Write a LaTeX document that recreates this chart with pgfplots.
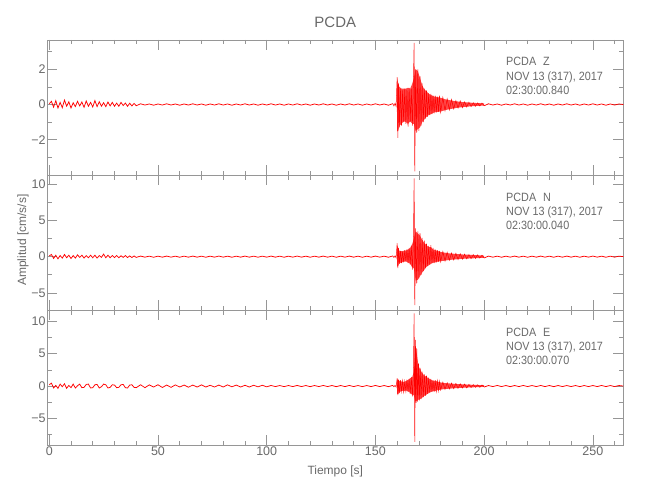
\documentclass[border=0pt]{standalone}
\usepackage{fontspec}
\setmainfont{Liberation Sans}
\newfontfamily\narrowfont{Liberation Sans}[FakeStretch=0.9]
\usepackage{pgfplots}
\pgfplotsset{compat=1.18}
\definecolor{framegray}{RGB}{150,150,150}
\definecolor{txtgray}{RGB}{105,105,105}
\pgfplotsset{
 seis/.style={
  scale only axis, width=576pt, height=135pt,
  xmin=-0.9, xmax=264,
  axis line style={framegray, line width=0.6pt},
  every tick/.style={framegray, line width=0.6pt},
  tick align=inside,
  major tick length=10pt, minor tick length=4.5pt,
  xtick={0,50,...,250}, minor xtick={0,10,...,260},
  ticklabel style={font=\fontsize{12.5}{13}\selectfont, text=txtgray},
  yticklabel style={inner sep=1.5pt},
  xticklabel style={inner sep=2pt},
  /pgf/number format/assume math mode=true,
  anchor=north west,
  clip=true,
 },
 trace/.style={draw=red, line width=0.75pt},
 evt/.style={draw=red, line width=0.5pt},
 env/.style={fill=red!72, draw=none},
}
\begin{document}
\begin{tikzpicture}
\useasboundingbox (0,0) rectangle (650pt,-500pt);
% ---------- Z ----------
\begin{axis}[seis, at={(47.3pt,-40pt)}, ymin=-4, ymax=3.66,
  ytick={-2,0,2}, yticklabels={−2,0,2}, minor ytick={-3,-1,1,3}, xticklabels={}]
\addplot[env] coordinates {
(159.9,0.1)(160,1.5)(160.5,1.2)(161,1.0)(162,0.9)(163,0.9)(164,0.9)(165,0.95)(166,0.9)(167,1.2)(167.7,1.5)(168.5,2.0)(169.5,1.9)(170.5,1.5)(171.5,1.1)(172.5,0.85)(173.5,0.75)(174.5,0.6)(175.5,0.55)(177,0.45)(178.5,0.42)(180,0.38)(182,0.3)(184,0.25)(186,0.2)(188,0.17)(190,0.14)(194,0.1)(200,0.06)
(200,-0.06)(194,-0.1)(190,-0.15)(188,-0.18)(186,-0.22)(184,-0.27)(182,-0.32)(180,-0.4)(178.5,-0.42)(177,-0.45)(175.5,-0.55)(174.5,-0.6)(173.5,-0.7)(172.5,-0.85)(171.5,-1.0)(170.5,-1.3)(169.5,-1.4)(168.5,-1.5)(167.7,-1.1)(167,-1.1)(166,-0.95)(165,-1.1)(164,-1.0)(163,-0.95)(162,-1.1)(161,-1.2)(160.5,-1.5)(160,-1.5)(159.9,-0.1)
} -- cycle;
\addplot[trace] coordinates {
(0,0.05)(1,0.18)(2,-0.15)(3,0.22)(4,-0.2)(5,0.12)(6,-0.18)(7,0.25)(8,-0.1)(9,0.15)(10,-0.2)(11,0.1)(12,-0.12)(13,0.18)(14,-0.08)(15,0.14)(16,-0.16)(17,0.2)(18,-0.1)(19,0.12)(20,-0.14)(21,0.22)(22,-0.12)(23,0.16)(24,-0.1)(25,0.1)(26,-0.12)(27,0.14)(28,-0.08)(29,0.12)(30,-0.1)(31,0.08)(32,-0.1)(33,0.12)(34,-0.06)(35,0.08)(36,-0.1)(37,0.07)(38,-0.08)(39,0.06)(40,-0.07)
(42,0.04)(44,-0.03)(46,0.03)(48,-0.04)(50,0.03)(52,-0.03)(54,0.04)(56,-0.03)(58,0.03)(60,-0.04)(62,0.03)(64,-0.03)(66,0.04)(68,-0.03)(70,0.03)(72,-0.04)(74,0.03)(76,-0.03)(78,0.04)(80,-0.03)(82,0.03)(84,-0.04)(86,0.03)(88,-0.03)(90,0.04)(92,-0.03)(94,0.03)(96,-0.04)(98,0.03)(100,-0.03)(102,0.04)(104,-0.03)(106,0.03)(108,-0.04)(110,0.03)(112,-0.03)(114,0.04)(116,-0.03)(118,0.03)(120,-0.04)(122,0.03)(124,-0.03)(126,0.04)(128,-0.03)(130,0.03)(132,-0.04)(134,0.03)(136,-0.03)(138,0.04)(140,-0.03)(142,0.03)(144,-0.04)(146,0.03)(148,-0.03)(150,0.04)(152,-0.03)(154,0.03)(156,-0.04)(158,0.05)
};
\addplot[evt] coordinates {
(158,0.05)(158.5,-0.08)(159,0.06)(159.5,-0.1)(160,1.55)(160.3,-1.9)(160.6,1.2)(161,-1.3)(161.5,0.9)(162,-1.2)(162.5,0.8)(163,-1.0)(163.5,0.9)(164,-1.1)(164.5,0.85)(165,-1.25)(165.5,0.95)(166,-1.0)(166.5,0.9)(167,-1.2)(167.5,1.5)(167.8,3.5)(168.1,-3.8)(168.5,2.0)(169,-1.6)(169.5,2.0)(170,-1.5)(170.5,1.6)(171,-1.2)(171.5,1.2)(172,-1.0)(172.5,0.9)(173,-0.8)(173.5,0.8)(174,-0.7)(174.5,0.65)(175,-0.6)(175.5,0.6)(176,-0.55)(176.5,0.5)(177,-0.5)(177.5,0.5)(178,-0.45)(178.5,0.45)(179,-0.4)(179.5,0.5)(180,-0.43)(181,0.4)(182,-0.35)(183,0.32)(184,-0.3)(185,0.28)(186,-0.25)(187,0.22)(188,-0.2)(189,0.2)(190,-0.18)(191,0.15)(192,-0.14)(193,0.13)(194,-0.12)(195,0.1)(196,-0.1)(197,0.09)(198,-0.08)(199,0.08)(200,-0.07)
};
\addplot[trace] coordinates {
(200,-0.07)(202,0.04)(204,-0.03)(206,0.03)(208,-0.04)(210,0.03)(212,-0.03)(214,0.04)(216,-0.03)(218,0.03)(220,-0.04)(222,0.03)(224,-0.03)(226,0.04)(228,-0.03)(230,0.03)(232,-0.04)(234,0.03)(236,-0.03)(238,0.04)(240,-0.03)(242,0.03)(244,-0.04)(246,0.03)(248,-0.03)(250,0.04)(252,-0.03)(254,0.03)(256,-0.04)(258,0.03)(260,-0.03)(262,0.03)(264,0)
};
\end{axis}
% ---------- N ----------
\begin{axis}[seis, at={(47.3pt,-175pt)}, ymin=-7.37, ymax=11.28,
  ytick={-5,0,5,10}, yticklabels={−5,0,5,10}, minor ytick={-2.5,2.5,7.5}, xticklabels={}]
\addplot[env] coordinates {
(159.9,0.15)(160,1.6)(160.5,1.1)(161,0.8)(162,0.75)(163,0.8)(164,0.85)(165,1.0)(166,1.2)(167,1.8)(167.7,2.5)(168.5,3.5)(169.5,3.2)(170.5,2.9)(171.5,2.3)(172.5,1.9)(173.5,1.6)(174.5,1.3)(175.5,1.3)(176.5,1.0)(177.5,0.9)(178.5,0.8)(180,0.65)(182,0.55)(184,0.45)(186,0.4)(188,0.35)(190,0.3)(194,0.24)(200,0.15)
(200,-0.15)(194,-0.24)(190,-0.3)(188,-0.35)(186,-0.4)(184,-0.45)(182,-0.55)(180,-0.62)(178.5,-0.7)(177.5,-0.8)(176.5,-0.85)(175.5,-1.0)(174.5,-1.2)(173.5,-1.4)(172.5,-1.8)(171.5,-2.2)(170.5,-2.7)(169.5,-3.2)(168.5,-3.3)(167.7,-1.6)(167,-1.5)(166,-1.0)(165,-0.8)(164,-0.65)(163,-0.7)(162,-0.8)(161,-0.9)(160.5,-1.3)(160,-1.4)(159.9,-0.15)
} -- cycle;
\addplot[trace] coordinates {
(0,0.1)(1,0.3)(2,-0.25)(3,0.2)(4,-0.3)(5,0.15)(6,-0.2)(7,0.3)(8,-0.15)(9,0.2)(10,-0.25)(11,0.15)(12,-0.2)(13,0.25)(14,-0.1)(15,0.2)(16,-0.2)(17,0.15)(18,-0.15)(19,0.2)(20,-0.15)(21,0.2)(22,-0.2)(23,0.15)(24,-0.1)(25,0.35)(26,-0.15)(27,0.2)(28,-0.15)(29,0.15)(30,-0.12)(31,0.15)(32,-0.15)(33,0.12)(34,-0.1)(35,0.15)(36,-0.12)(37,0.1)(38,-0.12)(39,0.1)(40,-0.1)
(42,0.08)(44,-0.07)(46,0.07)(48,-0.08)(50,0.07)(52,-0.07)(54,0.08)(56,-0.07)(58,0.07)(60,-0.08)(62,0.07)(64,-0.07)(66,0.08)(68,-0.07)(70,0.07)(72,-0.08)(74,0.07)(76,-0.07)(78,0.08)(80,-0.07)(82,0.07)(84,-0.08)(86,0.07)(88,-0.07)(90,0.08)(92,-0.07)(94,0.07)(96,-0.08)(98,0.07)(100,-0.07)(102,0.08)(104,-0.07)(106,0.07)(108,-0.08)(110,0.07)(112,-0.07)(114,0.08)(116,-0.07)(118,0.07)(120,-0.08)(122,0.07)(124,-0.07)(126,0.08)(128,-0.07)(130,0.07)(132,-0.08)(134,0.07)(136,-0.07)(138,0.08)(140,-0.07)(142,0.07)(144,-0.08)(146,0.07)(148,-0.07)(150,0.08)(152,-0.07)(154,0.07)(156,-0.08)(158,0.1)
};
\addplot[evt] coordinates {
(158,0.1)(158.5,-0.12)(159,0.1)(159.5,-0.15)(160,1.85)(160.3,-1.6)(160.6,1.2)(161,-1.0)(161.5,0.8)(162,-0.9)(162.5,0.7)(163,-0.8)(163.5,0.9)(164,-0.7)(164.5,1.0)(165,-0.9)(165.5,1.2)(166,-1.1)(166.5,1.5)(167,-1.8)(167.5,2.5)(167.8,10.8)(168.1,-6.7)(168.5,3.9)(169,-3.7)(169.5,3.5)(170,-3.0)(170.5,3.2)(171,-2.5)(171.5,2.6)(172,-2.0)(172.5,2.2)(173,-1.6)(173.5,1.8)(174,-1.3)(174.5,1.5)(175,-1.1)(175.5,1.6)(176,-0.9)(176.5,1.2)(177,-0.9)(177.5,1.0)(178,-0.8)(178.5,0.9)(179,-0.7)(179.5,0.8)(180,-0.7)(181,0.7)(182,-0.6)(183,0.6)(184,-0.5)(185,0.5)(186,-0.45)(187,0.45)(188,-0.4)(189,0.4)(190,-0.35)(191,0.35)(192,-0.3)(193,0.3)(194,-0.28)(195,0.28)(196,-0.25)(197,0.25)(198,-0.2)(199,0.2)(200,-0.18)
};
\addplot[trace] coordinates {
(200,-0.18)(202,0.08)(204,-0.07)(206,0.07)(208,-0.08)(210,0.07)(212,-0.07)(214,0.08)(216,-0.07)(218,0.07)(220,-0.08)(222,0.07)(224,-0.07)(226,0.08)(228,-0.07)(230,0.07)(232,-0.08)(234,0.07)(236,-0.07)(238,0.08)(240,-0.07)(242,0.07)(244,-0.08)(246,0.07)(248,-0.07)(250,0.08)(252,-0.07)(254,0.07)(256,-0.08)(258,0.07)(260,-0.07)(262,0.07)(264,0)
};
\end{axis}
% ---------- E ----------
\begin{axis}[seis, at={(47.3pt,-310pt)}, ymin=-9.07, ymax=11.7,
  ytick={-5,0,5,10}, yticklabels={−5,0,5,10}, minor ytick={-7.5,-2.5,2.5,7.5}]
\addplot[env] coordinates {
(159.9,0.15)(160,1.1)(160.5,0.9)(161,0.8)(162,0.7)(163,0.65)(164,0.75)(165,0.95)(166,1.2)(167,1.4)(167.7,2.2)(168.4,6.0)(169,5.0)(169.8,3.1)(170.6,2.5)(171.5,2.0)(172.5,1.6)(173.5,1.4)(174.5,1.15)(175.5,1.0)(176.5,0.8)(177.5,0.8)(178.5,0.7)(180,0.55)(182,0.45)(184,0.4)(186,0.35)(188,0.3)(190,0.27)(194,0.2)(200,0.13)
(200,-0.13)(194,-0.2)(190,-0.27)(188,-0.3)(186,-0.35)(184,-0.4)(182,-0.45)(180,-0.55)(178.5,-0.62)(177.5,-0.8)(176.5,-0.8)(175.5,-0.9)(174.5,-1.1)(173.5,-1.3)(172.5,-1.5)(171.5,-1.8)(170.6,-2.0)(169.8,-2.1)(169,-2.3)(168.4,-2.4)(167.7,-1.4)(167,-1.4)(166,-1.05)(165,-0.8)(164,-0.7)(163,-0.8)(162,-0.7)(161,-1.0)(160.5,-1.2)(160,-1.2)(159.9,-0.15)
} -- cycle;
\addplot[trace] coordinates {
(0,0.2)(1,0.45)(2,-0.3)(3,0.1)(4,-0.35)(5,0.3)(6,-0.1)(7,0.35)(8,-0.35)(9,0.1)(10,-0.25)(11,0.3)(12,-0.3)(13,0.05)(14,0.3)(15,-0.25)(16,-0.2)(17,0.25)(18,0.3)(19,-0.3)(20,-0.25)(21,0.2)(22,0.25)(23,-0.3)(24,-0.1)(25,0.3)(26,0.2)(27,-0.3)(28,-0.2)(29,0.2)(30,0.15)(31,-0.25)(32,-0.2)(33,0.2)(34,0.25)(35,-0.25)(36,-0.3)(37,0.15)(38,0.2)(39,-0.2)(40,-0.25)
(42,0.2)(44,-0.25)(46,0.18)(48,-0.15)(50,0.2)(52,-0.22)(54,0.15)(56,-0.2)(58,0.18)(60,-0.15)(62,0.15)(64,-0.18)(66,0.15)(68,-0.15)(70,0.18)(72,-0.15)(74,0.12)(76,-0.15)(78,0.15)(80,-0.15)(82,0.18)(84,-0.12)(86,0.15)(88,-0.15)(90,0.12)(92,-0.15)(94,0.12)(96,-0.12)(98,0.12)(100,-0.12)
(102,0.09)(104,-0.08)(106,0.08)(108,-0.09)(110,0.08)(112,-0.08)(114,0.09)(116,-0.08)(118,0.08)(120,-0.09)(122,0.08)(124,-0.08)(126,0.09)(128,-0.08)(130,0.08)(132,-0.09)(134,0.08)(136,-0.08)(138,0.09)(140,-0.08)(142,0.08)(144,-0.09)(146,0.08)(148,-0.08)(150,0.09)(152,-0.08)(154,0.08)(156,-0.09)(158,0.1)
};
\addplot[evt] coordinates {
(158,0.1)(158.5,-0.12)(159,0.1)(159.5,-0.15)(160,1.2)(160.3,-1.4)(160.6,1.0)(161,-1.1)(161.5,0.9)(162,-0.8)(162.5,0.8)(163,-0.9)(163.5,0.7)(164,-0.8)(164.5,1.0)(165,-0.9)(165.5,1.1)(166,-1.2)(166.5,1.4)(167,-1.6)(167.5,2.5)(167.8,11.2)(168.1,-8.6)(168.4,7.1)(168.7,-2.6)(169,5.8)(169.4,-2.4)(169.8,3.5)(170.2,-2.2)(170.6,2.8)(171,-2.0)(171.5,2.2)(172,-1.7)(172.5,1.8)(173,-1.5)(173.5,1.6)(174,-1.2)(174.5,1.3)(175,-1.0)(175.5,1.1)(176,-0.9)(176.5,0.9)(177,-0.9)(177.5,0.9)(178,-0.8)(178.5,0.8)(179,-0.7)(179.5,0.7)(180,-0.6)(181,0.6)(182,-0.5)(183,0.5)(184,-0.45)(185,0.45)(186,-0.4)(187,0.4)(188,-0.35)(189,0.35)(190,-0.3)(191,0.3)(192,-0.28)(193,0.25)(194,-0.22)(195,0.22)(196,-0.2)(197,0.2)(198,-0.18)(199,0.17)(200,-0.15)
};
\addplot[trace] coordinates {
(200,-0.15)(202,0.08)(204,-0.08)(206,0.09)(208,-0.08)(210,0.08)(212,-0.09)(214,0.08)(216,-0.08)(218,0.09)(220,-0.08)(222,0.08)(224,-0.08)(226,0.09)(228,-0.08)(230,0.08)(232,-0.09)(234,0.08)(236,-0.08)(238,0.08)(240,-0.08)(242,0.08)(244,-0.09)(246,0.08)(248,-0.08)(250,0.08)(252,-0.08)(254,0.09)(256,-0.08)(258,0.08)(260,-0.08)(262,0.08)(264,0)
};
\end{axis}
% ---------- texts ----------
\node[anchor=base, text=txtgray, font=\fontsize{15}{15}\selectfont] at (335.3pt,-28pt) {PCDA};
\node[anchor=base, text=txtgray, font=\fontsize{12}{12}\selectfont] at (335.3pt,-474pt) {Tiempo [s]};
\node[anchor=center, rotate=90, text=txtgray, font=\fontsize{12}{12}\selectfont] at (23pt,-240pt) {Amplitud [cm/s/s]};
\foreach \top/\comp/\tm in {40/Z/02:30:00.840, 175/N/02:30:00.040, 310/E/02:30:00.070}{
  \node[anchor=base west, inner sep=0pt, text=txtgray, font=\narrowfont\fontsize{12}{12}\selectfont] at (506pt,-\top pt-26pt) {PCDA};
  \node[anchor=base west, inner sep=0pt, text=txtgray, font=\narrowfont\fontsize{12}{12}\selectfont] at (543pt,-\top pt-26pt) {\comp};
  \node[anchor=base west, inner sep=0pt, text=txtgray, font=\narrowfont\fontsize{12}{12}\selectfont] at (506pt,-\top pt-40.3pt) {NOV 13 (317), 2017};
  \node[anchor=base west, inner sep=0pt, text=txtgray, font=\narrowfont\fontsize{12}{12}\selectfont] at (506pt,-\top pt-54.6pt) {\tm};
}
\end{tikzpicture}
\end{document}
